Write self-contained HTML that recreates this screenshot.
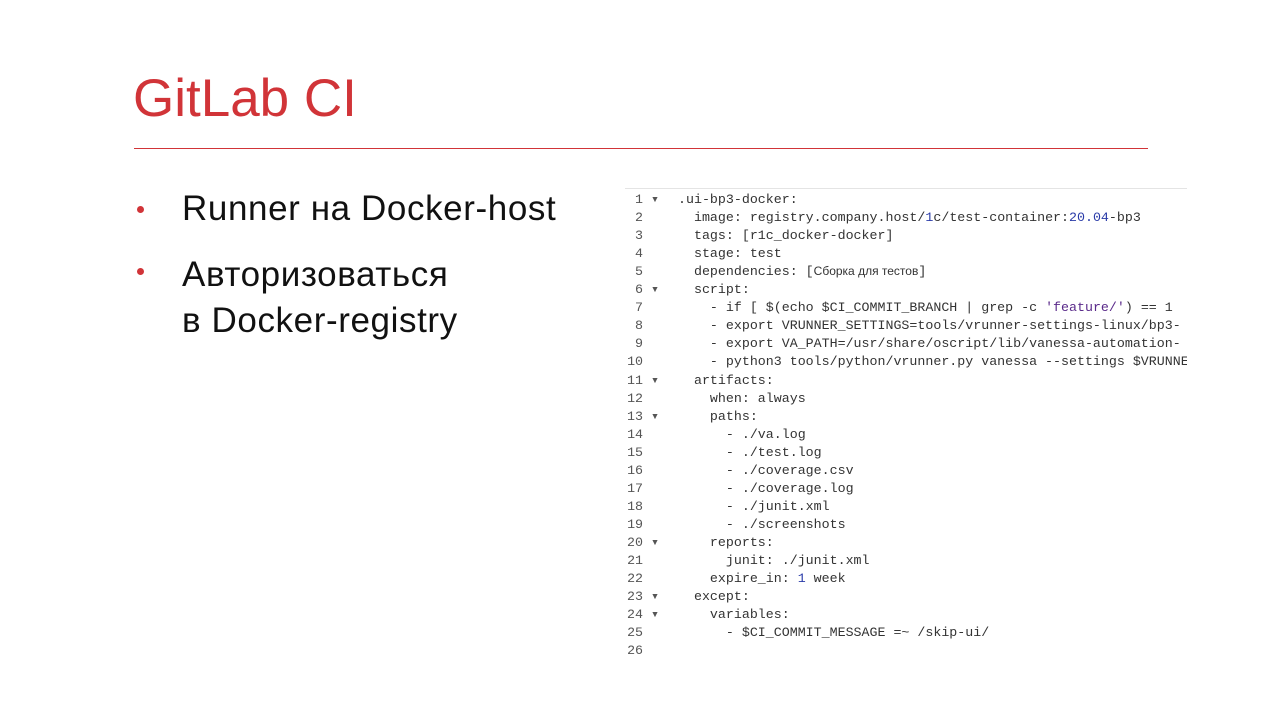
<!DOCTYPE html>
<html><head><meta charset="utf-8"><style>
body{margin:0;width:1280px;height:720px;background:#fff;position:relative;overflow:hidden;font-family:"Liberation Sans","DejaVu Sans",sans-serif}
.t{position:absolute;left:133px;top:68px;font-size:53px;color:#d13438}
.hr{position:absolute;left:134px;top:148px;width:1014px;height:1px;background:#d13438}
.b{position:absolute;left:182px;font-size:35px;color:#111;line-height:46px;letter-spacing:0.6px}
.d{position:absolute;left:137px;width:7px;height:7px;border-radius:50%;background:#d13438}
.code{position:absolute;left:625px;top:188px;width:562px;height:467px;border-top:1px solid #e4e4e4;overflow:hidden;font-family:"Liberation Mono",monospace;font-size:13.3px;color:#333}
.ln{position:absolute;left:0;width:34px;text-align:right;color:#555}
.c{position:absolute;left:53px;white-space:pre}
.n{color:#2a3ba8}
.s{color:#5a2a8a}
</style></head><body>
<div class="t">GitLab CI</div>
<div class="hr"></div>
<div class="d" style="top:206px"></div>
<div class="b" style="top:186px">Runner на Docker-host</div>
<div class="d" style="top:268px"></div>
<div class="b" style="top:252px">Авторизоваться<br>в Docker-registry</div>
<div class="code" id="code"></div>
<script>
var L=[".ui-bp3-docker:","  image: registry.company.host/<span class=n>1</span>c/test-container:<span class=n>20.04</span>-bp3","  tags: [r1c_docker-docker]","  stage: test","  dependencies: [<span style='font-family:Liberation Sans,sans-serif;font-size:12px'>Сборка для тестов</span>]","  script:","    - if [ $(echo $CI_COMMIT_BRANCH | grep -c <span class=s>'feature/'</span>) == 1","    - export VRUNNER_SETTINGS=tools/vrunner-settings-linux/bp3-","    - export VA_PATH=/usr/share/oscript/lib/vanessa-automation-","    - python3 tools/python/vrunner.py vanessa --settings $VRUNNER","  artifacts:","    when: always","    paths:","      - ./va.log","      - ./test.log","      - ./coverage.csv","      - ./coverage.log","      - ./junit.xml","      - ./screenshots","    reports:","      junit: ./junit.xml","    expire_in: <span class=n>1</span> week","  except:","    variables:","      - $CI_COMMIT_MESSAGE =~ /skip-ui/",""];
var f=[1,6,11,13,20,23,24],h="";
for(var i=0;i<L.length;i++){var y=3+i*18.05;h+="<div class=ln style='top:"+y+"px'>"+(i+1)+(f.indexOf(i+1)>=0?" ▾":"&nbsp;&nbsp;")+"</div><div class=c style='top:"+y+"px'>"+L[i]+"</div>";}
document.getElementById("code").innerHTML=h;
</script>
</body></html>
